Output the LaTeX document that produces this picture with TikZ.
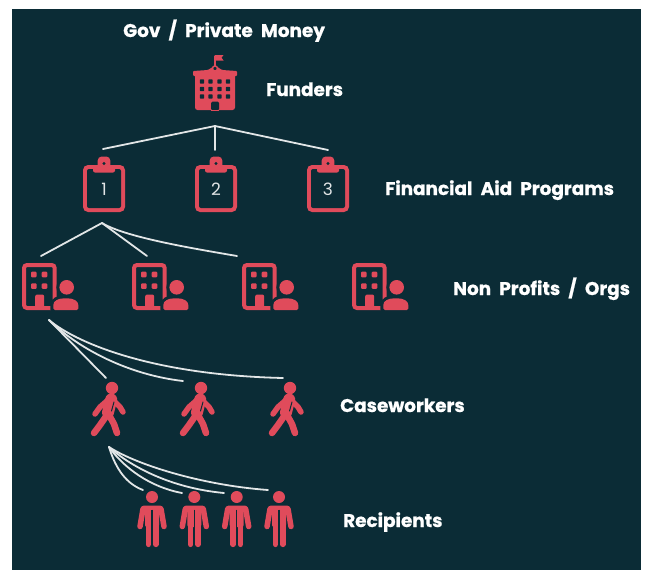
\documentclass[tikz,border=0pt]{standalone}
\usepackage{fontspec}
\setmainfont{Poppins}[WordSpace=2.1,BoldFeatures={FakeBold=0.8}]
\definecolor{bg}{HTML}{0B2C36}
\definecolor{ic}{HTML}{E04B5B}
\definecolor{ln}{HTML}{E2E6E7}
\tikzset{
  lbl/.style={text=white,font=\bfseries\fontsize{18.4}{20}\selectfont,anchor=base west,inner sep=0pt},
  conn/.style={draw=ln,line width=1.8pt,line cap=round},
  clipboard/.pic={
    \fill[ic,rounded corners=5pt] (-21,-23) rectangle (21,24);
    \fill[bg,rounded corners=2pt] (-17,-19) rectangle (17,20);
    \fill[ic,rounded corners=4pt] (-6.3,-31.5) rectangle (6.3,-18);
    \fill[ic,rounded corners=2pt] (-11,-21) rectangle (11,-15.5);
    \fill[bg] (0,-24.5) circle (1.7);
    \node[text=ln,font=\fontsize{17}{17}\selectfont,inner sep=0pt] at (0,1.5) {#1};
  },
  npicon/.pic={
    \draw[ic,line width=4pt,rounded corners=3pt] (2,2) rectangle (32.7,45);
    \foreach \wx/\wy in {9/8.7,19.7/8.7,9/20.3,19.7/20.3}
      \fill[ic,rounded corners=1pt] (\wx,\wy) rectangle ++(5.6,5.6);
    \fill[ic,rounded corners=2pt] (13.2,31.5) rectangle (22.2,46);
    \draw[bg,line width=6pt] (44.7,24.3) circle (7.3);
    \fill[ic] (44.7,24.3) circle (7.3);
    \draw[bg,line width=6pt,rounded corners=1.5pt] (31.3,47) -- (31.3,43.5) .. controls (31.3,38) and (36,35.3) .. (43.8,35.3) .. controls (51.5,35.3) and (56.3,38) .. (56.3,43.5) -- (56.3,47) -- cycle;
    \fill[ic,rounded corners=1.5pt] (31.3,47) -- (31.3,43.5) .. controls (31.3,38) and (36,35.3) .. (43.8,35.3) .. controls (51.5,35.3) and (56.3,38) .. (56.3,43.5) -- (56.3,47) -- cycle;
  },
  walker/.pic={
    \fill[ic] (0,0) circle (6.2);
    \draw[ic,line width=12pt,line cap=round] (-0.8,11.5) -- (-4,24.5);
    \draw[ic,line width=5.5pt,line cap=round,line join=round] (-4,12) -- (-12,19) -- (-17,26);
    \draw[ic,line width=5.5pt,line cap=round,line join=round] (1,12) -- (8,19) -- (11,24);
    \draw[ic,line width=6.5pt,line cap=round,line join=round] (-5,27) -- (-12,37) -- (-18,45);
    \draw[ic,line width=6.5pt,line cap=round,line join=round] (-3,27) -- (2,36) -- (5,45);
    \draw[bg,line width=1pt,line cap=round] (2,14) -- (-0.5,23);
  },
  recipient/.pic={
    \fill[ic] (0,0) circle (6);
    \fill[ic,rounded corners=3pt] (-11,8.5) rectangle (11,15);
    \fill[ic,rounded corners=2pt] (-7,9) rectangle (7,30);
    \draw[ic,line width=5.5pt,line cap=round] (-9,12) -- (-12,29.5);
    \draw[ic,line width=5.5pt,line cap=round] (9,12) -- (12,29.5);
    \draw[ic,line width=5.6pt,line cap=round] (-3.7,27) -- (-3.7,47.3);
    \draw[ic,line width=5.6pt,line cap=round] (3.7,27) -- (3.7,47.3);
    \draw[bg,line width=1.2pt] (0,12.5) -- (0,26) (0,26) -- (0,48);
  }
}
\begin{document}
\begin{tikzpicture}[x=1pt,y=-1pt]
\useasboundingbox (0,0) rectangle (645,570);
\fill[white] (0,0) rectangle (645,570);
\fill[bg] (12,9) rectangle (641,570);

% funder icon
\draw[ic,line width=1.6pt] (215,68) -- (215,55.5);
\fill[ic] (214.5,55) -- (223.5,55) -- (221.5,57.7) -- (223.5,60.5) -- (214.5,60.5) -- cycle;
\fill[ic,rounded corners=2.5pt] (195,72) rectangle (235,110);
\fill[ic,rounded corners=1pt] (193,76) -- (193,71) -- (208,70) -- (215,65.5) -- (222,70) -- (237,71) -- (237,76) -- cycle;
\filldraw[fill=bg,draw=ic,line width=1.5pt] (215,68.5) circle (2.5);
\foreach \dx in {202,210.5,219.5,228}
  \foreach \dy in {81.5,89,96.5}
    \fill[bg,rounded corners=0.8pt] (\dx-2.2,\dy-2.2) rectangle ++(4.4,4.4);
\fill[bg,rounded corners=1.5pt] (211,101.5) rectangle (219,110.5);
\fill[ic] (211,110) rectangle (219,110.5);

% clipboards
\pic at (104,188) {clipboard=1};
\pic at (216,188) {clipboard=2};
\pic at (328,188) {clipboard=3};

% non profits
\pic at (22,263) {npicon};
\pic at (132,263) {npicon};
\pic at (242,263) {npicon};
\pic at (352,263) {npicon};

% caseworkers
\pic at (112,388) {walker};
\pic at (201,388) {walker};
\pic at (290,388) {walker};

% recipients
\pic at (152,497) {recipient};
\pic at (194.3,497) {recipient};
\pic at (236.7,497) {recipient};
\pic at (279,497) {recipient};

% labels
\node[lbl] (gov) at (123,37) {Gov / Private Money};
\node[lbl] (fund) at (266,96) {Funders};
\node[lbl] (fap) at (385,195) {Financial Aid Programs};
\node[lbl] (npo) at (453,295) {Non Profits / Orgs};
\node[lbl] (cw) at (340,412) {Caseworkers};
\node[lbl] (rec) at (343,527) {Recipients};

% connectors
\coordinate (fa) at (215,126);
\coordinate (f1) at (103,149);
\coordinate (f2) at (215,150);
\coordinate (f3) at (328,150);
\draw[conn] (fa) -- (f1);
\draw[conn] (fa) -- (f2);
\draw[conn] (fa) -- (f3);

\coordinate (pa) at (102,223);
\coordinate (p1) at (41,256);
\coordinate (p2) at (147,256);
\coordinate (p3) at (237,256);
\draw[conn] (pa) -- (p1);
\draw[conn] (pa) -- (p2);
\draw[conn] (pa) .. controls (125,237) and (190,248) .. (p3);

\coordinate (na) at (49,320);
\coordinate (n1) at (106,378);
\coordinate (n2) at (183,381);
\coordinate (n3) at (283,378);
\draw[conn] (na) -- (n1);
\draw[conn] (na) .. controls (80,350) and (130,375) .. (n2);
\draw[conn] (na) .. controls (75,342) and (150,375) .. (n3);

\coordinate (ca) at (109,447);
\coordinate (c1) at (143,490);
\coordinate (c2) at (182,493);
\coordinate (c3) at (224,493);
\coordinate (c4) at (268,490);
\draw[conn] (ca) .. controls (116,470) and (127,484) .. (c1);
\draw[conn] (ca) .. controls (124,468) and (150,487) .. (c2);
\draw[conn] (ca) .. controls (130,466) and (170,488) .. (c3);
\draw[conn] (ca) .. controls (135,464) and (200,485) .. (c4);
\end{tikzpicture}
\end{document}
